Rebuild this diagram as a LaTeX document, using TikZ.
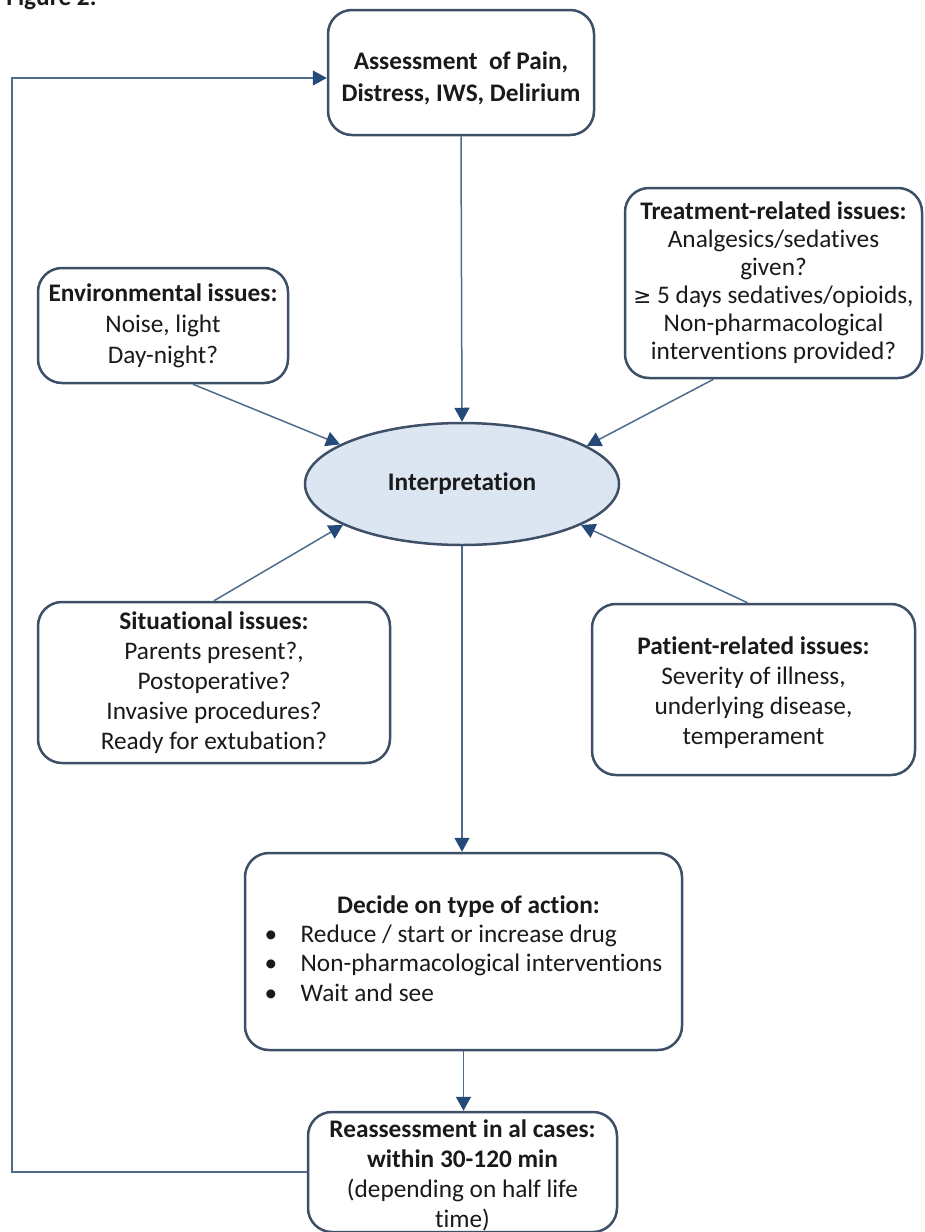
\documentclass[tikz,border=0pt]{standalone}
\usepackage{fontspec}
\setmainfont{Carlito}[Ligatures=NoCommon]
\newfontfamily\symf{DejaVu Sans}[Scale=0.85]
\usetikzlibrary{shapes.geometric,arrows.meta}
\definecolor{boxline}{HTML}{3E5068}
\definecolor{conn}{HTML}{4F6C8C}
\definecolor{tipc}{HTML}{244A7A}
\definecolor{ellfill}{HTML}{DCE6F2}
\definecolor{txt}{HTML}{1A1A1A}
\tikzset{
  box/.style={draw=boxline, line width=1.25pt, rounded corners=12pt, fill=white,
    align=center, inner sep=0pt, text=txt,
    font=\fontsize{12.65}{15}\selectfont},
  arr/.style={draw=conn, line width=0.75pt,
    -{Triangle[length=7pt,width=7.5pt,fill=tipc,color=tipc]}},
}
\begin{document}
\begin{tikzpicture}[x=0.5pt,y=-0.5pt]
\useasboundingbox (0,0) rectangle (925,1232);
\node[anchor=base west, font=\fontsize{12.65}{15}\selectfont\bfseries, text=txt, inner sep=0pt] (fig) at (6,5) {Figure 2.};

\node[box, minimum width=133pt, minimum height=62.5pt, font=\fontsize{12.65}{16}\selectfont] (assess) at (461,72.5)
  {\rule{0pt}{15pt}\textbf{Assessment\ \ of Pain,}\\ \textbf{Distress, IWS, Delirium}};

\node[box, minimum width=125pt, minimum height=57.5pt, font=\fontsize{12.65}{15.5}\selectfont] (env) at (163,325.5)
  {\textbf{Environmental issues:}\\ Noise, light\\ Day-night?};

\node[box, minimum width=148.5pt, minimum height=95pt, font=\fontsize{12.65}{14}\selectfont] (treat) at (773.5,283)
  {\textbf{Treatment-related issues:}\\ Analgesics/sedatives\\ given?\\ {\symf ≥} 5 days sedatives/opioids,\\ Non-pharmacological\\ interventions provided?};

\node[ellipse, draw=boxline, line width=1.25pt, fill=ellfill, minimum width=157pt, minimum height=61pt, inner sep=0pt, text=txt, font=\fontsize{12.65}{15}\selectfont\bfseries] (ell) at (462,484) {Interpretation};

\node[box, minimum width=176pt, minimum height=80.5pt] (situ) at (214,682.5)
  {\textbf{Situational issues:}\\ Parents present?,\\ Postoperative?\\ Invasive procedures?\\ Ready for extubation?};

\node[box, minimum width=161.5pt, minimum height=85.5pt] (patient) at (753.5,689.5)
  {\rule{0pt}{12pt}\textbf{Patient-related issues:}\\ Severity of illness,\\ underlying disease,\\ temperament};

\node[box, minimum width=218.5pt, minimum height=98.5pt, font=\fontsize{12.65}{14.6}\selectfont] (decide) at (463.5,951.5)
  {\rule{0pt}{14pt}\begin{tabular}[b]{@{}l@{}l@{}}
   \multicolumn{2}{c}{\hspace{5pt}\textbf{Decide on type of action:}}\\
   \makebox[18pt][l]{•} & Reduce / start or increase drug\\
   \makebox[18pt][l]{•} & Non-pharmacological interventions\\
   \makebox[18pt][l]{•} & Wait and see
   \end{tabular}};

\node[box, minimum width=154.5pt, minimum height=60pt] (reassess) at (462.5,1172)
  {\rule{0pt}{12pt}\textbf{Reassessment in al cases:}\\ \textbf{within 30-120 min}\\ (depending on half life\\ time)};

\draw[arr] (assess.south) -- (ell.north);
\draw[arr] ([xshift=15pt]env.south) -- (ell.162);
\draw[arr] ([xshift=-30pt]treat.south) -- (ell.17);
\draw[arr] (situ.north) -- (ell.199);
\draw[arr] ([xshift=-3pt]patient.north) -- (ell.-19);
\draw[arr] (ell.south) -- (ell.south |- decide.north);
\draw[arr] (decide.south) -- (decide.south |- reassess.north);
\draw[arr] (reassess.west) -- ++(-295,0) |- ([yshift=-2.75pt]assess.west);
\end{tikzpicture}
\end{document}
